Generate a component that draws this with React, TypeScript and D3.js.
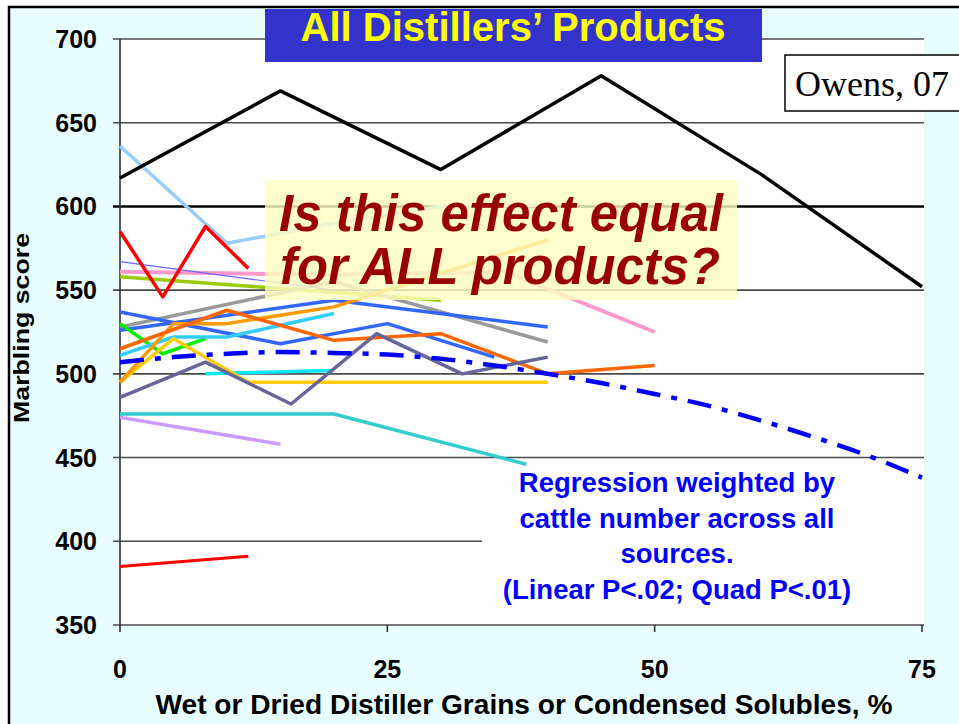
import React from 'react';
import * as d3 from 'd3';

type Pt = [number, number];

// [% in diet, marbling score]
const blackSeries: Pt[] = [[0, 617], [15, 669], [30, 622], [45, 678], [60, 619], [75, 552]];
const lightBlue: Pt[] = [[0, 636], [10, 578], [20, 590], [30, 600], [40, 601]];
const redTop: Pt[] = [[0, 585], [4, 546], [8, 588], [12, 563]];
const thinBlue: Pt[] = [[0, 567], [20, 550]];
const pink: Pt[] = [[0, 561], [20, 559], [36, 561], [50, 525]];
const yellowGreen: Pt[] = [[0, 558], [15, 551], [30, 544]];
const gray: Pt[] = [[0, 528], [20, 555], [40, 519]];
const blueA: Pt[] = [[0, 537], [15, 518], [25, 530], [35, 510]];
const blueB: Pt[] = [[0, 526], [20, 544], [40, 528]];
const green: Pt[] = [[0, 530], [4, 512], [8, 521]];
const orange: Pt[] = [[0, 515], [10, 538], [20, 520], [30, 524], [40, 500], [50, 505]];
const cyan: Pt[] = [[0, 511], [5, 522], [10, 522], [20, 536]];
const cyan2: Pt[] = [[8, 500], [20, 502]];
const amber: Pt[] = [[0, 495], [5, 530], [10, 530], [20, 540], [30, 560], [40, 580]];
const gold: Pt[] = [[0, 495], [5, 521], [12, 495], [40, 495]];
const slate: Pt[] = [[0, 486], [8, 507], [16, 482], [24, 524], [32, 500], [40, 510]];
const teal: Pt[] = [[0, 476], [20, 476], [38, 446]];
const lavender: Pt[] = [[0, 474], [15, 458]];
const redLow: Pt[] = [[0, 385], [12, 391]];
const regression: Pt[] = [
  [0, 507], [5, 510], [10, 512], [15, 513], [20, 512.5], [25, 511.5], [30, 509], [35, 505],
  [40, 500], [45, 494.5], [50, 488], [55, 481], [60, 472], [65, 462], [70, 451], [75, 438],
];

const xTicks = [0, 25, 50, 75];
const yTicks = [350, 400, 450, 500, 550, 600, 650, 700];
const regressionText = ['Regression weighted by', 'cattle number across all', 'sources.', '(Linear P<.02; Quad P<.01)'];

const series = [
  { d: teal, c: '#33cccc', w: 3.5 },
  { d: lavender, c: '#cc99ff', w: 3.5 },
  { d: redLow, c: '#ff0000', w: 3 },
  { d: pink, c: '#ff99cc', w: 4 },
  { d: yellowGreen, c: '#99cc00', w: 3.5 },
  { d: gray, c: '#999999', w: 3.5 },
  { d: blueB, c: '#3366ff', w: 3.5 },
  { d: blueA, c: '#3366ff', w: 3.5 },
  { d: thinBlue, c: '#6666ff', w: 1.2 },
  { d: green, c: '#00ee00', w: 3.5 },
  { d: cyan2, c: '#00e8f0', w: 3.5 },
  { d: cyan, c: '#33ccff', w: 3.5 },
  { d: gold, c: '#ffcc00', w: 3.5 },
  { d: amber, c: '#ff9900', w: 3.5 },
  { d: orange, c: '#ff6600', w: 3.5 },
  { d: slate, c: '#666699', w: 3.5 },
  { d: lightBlue, c: '#99ccff', w: 3.5 },
  { d: redTop, c: '#ff0000', w: 3.5 },
  { d: blackSeries, c: '#000000', w: 3.5 },
];

const App = () => {
  const width = 959, height = 724;
  const x = d3.scaleLinear().domain([0, 75]).range([120, 922]);
  const y = d3.scaleLinear().domain([350, 700]).range([625, 39]);
  const line = d3.line<Pt>().x(d => x(d[0])).y(d => y(d[1]));
  const curve = d3.line<Pt>().x(d => x(d[0])).y(d => y(d[1])).curve(d3.curveMonotoneX);
  const sans = 'Liberation Sans, Arial, sans-serif';

  return (
    <svg width={width} height={height} style={{ position: 'absolute', left: 0, top: 0, background: '#fff' }}>
      <rect x={9} y={7} width={width} height={height} fill="#e8fdfd" stroke="#000" strokeWidth={2.5} />
      <rect x={120} y={39} width={804} height={586} fill="#fff" />

      {yTicks.map(t => (
        <g key={t}>
          <line x1={113} x2={924} y1={y(t)} y2={y(t)} stroke={t === 600 ? '#000' : '#4a4a4a'} strokeWidth={t === 600 ? 2.4 : 1.6} />
          <text x={97} y={y(t) + 9} textAnchor="end" fontFamily={sans} fontWeight="bold" fontSize={25}>{t}</text>
        </g>
      ))}
      <line x1={120} x2={120} y1={39} y2={625} stroke="#333" strokeWidth={1.6} />
      {xTicks.map(t => (
        <g key={t}>
          <line x1={x(t)} x2={x(t)} y1={625} y2={632} stroke="#333" strokeWidth={1.6} />
          <text x={x(t)} y={678} textAnchor="middle" fontFamily={sans} fontWeight="bold" fontSize={25}>{t}</text>
        </g>
      ))}

      {/* white note box under the regression text */}
      <rect x={482} y={466} width={442} height={146} fill="#fff" />

      {series.map((s, i) => (
        <path key={i} d={line(s.d) || ''} fill="none" stroke={s.c} strokeWidth={s.w} strokeLinejoin="round" />
      ))}
      <path d={curve(regression) || ''} fill="none" stroke="#0000ff" strokeWidth={4.5} strokeDasharray="24 11 6 11" />

      <rect x={265} y={180} width={472} height={120} fill="#ffffc0" opacity={0.8} />
      <g fontFamily={sans} fontWeight="bold" fontStyle="italic" fontSize={51} fill="#990000" textAnchor="middle">
        <text x={501} y={231} textLength={444} lengthAdjust="spacingAndGlyphs">Is this effect equal</text>
        <text x={500} y={284} textLength={440} lengthAdjust="spacingAndGlyphs">for ALL products?</text>
      </g>

      <g fontFamily={sans} fontWeight="bold" fontSize={27.5} fill="#0000ff" textAnchor="middle">
        {regressionText.map((t, i) => (
          <text key={i} x={677} y={492 + i * 35.5}>{t}</text>
        ))}
      </g>

      <rect x={265} y={9} width={497} height={53} fill="#3333cc" />
      <text x={513} y={41} textAnchor="middle" fontFamily={sans} fontWeight="bold" fontSize={40} fill="#ffff00" textLength={425} lengthAdjust="spacingAndGlyphs">All Distillers’ Products</text>

      <rect x={785} y={55} width={200} height={56} fill="#fff" stroke="#000" strokeWidth={1.5} />
      <text x={795} y={96} fontFamily="Liberation Serif, Times New Roman, serif" fontSize={36}>Owens, 07</text>

      <text transform="translate(29,328) rotate(-90)" textAnchor="middle" fontFamily={sans} fontWeight="bold" fontSize={22} textLength={190} lengthAdjust="spacingAndGlyphs">Marbling score</text>
      <text x={524} y={714} textAnchor="middle" fontFamily={sans} fontWeight="bold" fontSize={28} textLength={737} lengthAdjust="spacingAndGlyphs">Wet or Dried Distiller Grains or Condensed Solubles, %</text>
    </svg>
  );
};

export default App;
